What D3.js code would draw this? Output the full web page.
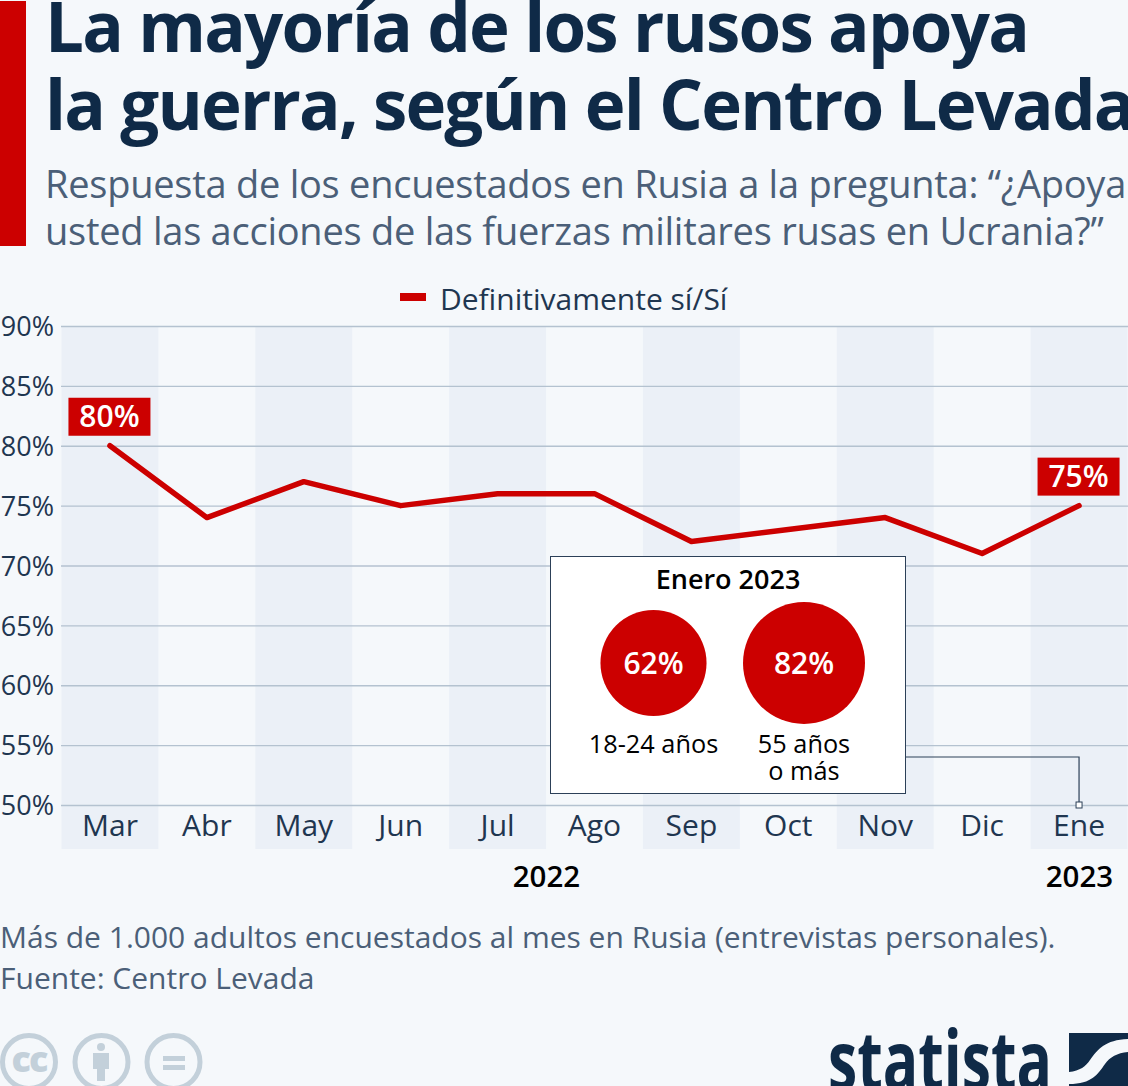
<!DOCTYPE html>
<html lang="es"><head><meta charset="utf-8">
<script src="https://cdn.jsdelivr.net/npm/d3@7"></script>
<style>html,body{margin:0;padding:0;background:#f5f8fb;overflow:hidden}svg{display:block}text{font-family:"Open Sans",sans-serif}</style>
</head><body><svg id="c" width="1128" height="1086"></svg>
<script>
const months=["Mar","Abr","May","Jun","Jul","Ago","Sep","Oct","Nov","Dic","Ene"];
const support=[80,74,77,75,76,76,72,73,74,71,75];
const yTicks=[50,55,60,65,70,75,80,85,90];
const labelled=["Mar","Ene"];
const insetLabels=[["18-24 años"],["55 años","o más"]];
const insetValues=[62,82];
const titleLines=["La mayoría de los rusos apoya","la guerra, según el Centro Levada"];
const subtitleLines=["Respuesta de los encuestados en Rusia a la pregunta: “¿Apoya","usted las acciones de las fuerzas militares rusas en Ucrania?”"];
const footLines=["Más de 1.000 adultos encuestados al mes en Rusia (entrevistas personales).","Fuente: Centro Levada"];
const navy="#0f2a47",slate="#4b5f78",red="#cc0000",deep="#1f3650";
const svg=d3.select("#c");
const x=d3.scaleBand().domain(months).range([61.5,1127.5]).padding(0);
const y=d3.scaleLinear().domain([50,90]).range([805,326]);
const cx=m=>x(m)+x.bandwidth()/2;

// header
svg.append("rect").attr("x",0).attr("y",1).attr("width",26).attr("height",245).attr("fill",red);
svg.selectAll(".t").data(titleLines).join("text").attr("x",45).attr("y",(d,i)=>52+i*78)
 .attr("font-size",69).attr("font-weight",700).attr("fill",navy).attr("letter-spacing",-1.8).text(d=>d);
svg.selectAll(".s").data(subtitleLines).join("text").attr("x",45).attr("y",(d,i)=>198+i*47)
 .attr("font-size",38).attr("fill",slate).attr("letter-spacing",-0.25).text(d=>d);

// legend
svg.append("rect").attr("x",400).attr("y",293).attr("width",26).attr("height",8).attr("fill",red);
svg.append("text").attr("x",440).attr("y",310).attr("font-size",30).attr("fill",deep).text("Definitivamente sí/Sí");

// bands
svg.selectAll(".b").data(months.filter((d,i)=>i%2===0)).join("rect")
 .attr("x",d=>x(d)).attr("y",y(90)).attr("width",x.bandwidth()).attr("height",849-y(90)).attr("fill","#ebf0f7");

// gridlines & y axis
const gy=svg.append("g").attr("transform","translate(61,0)").call(d3.axisLeft(y).tickValues(yTicks).tickSize(-1067).tickFormat(d=>d+"%"));
gy.select(".domain").remove();
gy.selectAll(".tick line").attr("stroke","#b4c2d0").attr("stroke-width",1.4);
gy.selectAll(".tick text").attr("x",-7).attr("font-size",27).attr("font-family","Open Sans").attr("fill",deep).attr("dy","0.36em");

// x axis
const gx=svg.append("g").attr("transform","translate(0,805)").call(d3.axisBottom(x).tickSize(0));
gx.select(".domain").remove();
gx.selectAll(".tick text").attr("y",20).attr("font-size",30).attr("font-family","Open Sans").attr("fill",deep).attr("dy","0.36em");
[["2022",546.5],["2023",1079.5]].forEach(([t,px])=>svg.append("text").attr("x",px).attr("y",887).attr("text-anchor","middle").attr("font-size",29.5).attr("font-weight",600).attr("fill","#000").text(t));

// line
const line=d3.line().x((d,i)=>cx(months[i])).y(d=>y(d));
svg.append("path").attr("d",line(support)).attr("fill","none").attr("stroke",red).attr("stroke-width",5.5).attr("stroke-linecap","round").attr("stroke-linejoin","round");

// value labels
labelled.forEach(m=>{
 const v=support[months.indexOf(m)];
 const g=svg.append("g").attr("transform",`translate(${cx(m)},${y(v)-29})`);
 g.append("rect").attr("x",-41.5).attr("y",-19).attr("width",82).attr("height",38).attr("fill",red);
 g.append("text").attr("text-anchor","middle").attr("x",-0.5).attr("y",10).attr("font-size",30).attr("font-weight",600).attr("fill","#fff").text(v+"%");
});

// connector
const ex=cx("Ene");
svg.append("path").attr("d",`M905,757H${ex}V${y(50)}`).attr("fill","none").attr("stroke","#2c4058").attr("stroke-width",1.2);
svg.append("rect").attr("x",ex-3).attr("y",y(50)-3).attr("width",6).attr("height",6).attr("fill","#fff").attr("stroke","#2c4058").attr("stroke-width",1);

// inset
svg.append("rect").attr("x",550.5).attr("y",556.5).attr("width",355).attr("height",237).attr("fill","#fff").attr("stroke","#2c4058").attr("stroke-width",1);
svg.append("text").attr("x",728).attr("y",589).attr("text-anchor","middle").attr("font-size",27).attr("font-weight",600).attr("fill","#000").text("Enero 2023");
const rScale=d3.scaleSqrt().domain([0,82]).range([0,61]);
const insetX=[653.5,804];
insetValues.forEach((v,i)=>{
 svg.append("circle").attr("cx",insetX[i]).attr("cy",663).attr("r",rScale(v)).attr("fill",red);
 svg.append("text").attr("x",insetX[i]).attr("y",674).attr("text-anchor","middle").attr("font-size",30).attr("font-weight",600).attr("fill","#fff").text(v+"%");
 insetLabels[i].forEach((l,j)=>svg.append("text").attr("x",insetX[i]).attr("y",753+j*27).attr("text-anchor","middle").attr("font-size",25.3).attr("fill","#000").text(l));
});

// footer
svg.selectAll(".f").data(footLines).join("text").attr("x",0).attr("y",(d,i)=>948+i*41)
 .attr("font-size",30).attr("fill",slate).text(d=>d);

// cc icons
const ic="#c3d0da";
[29,101.5,173.5].forEach(c=>svg.append("circle").attr("cx",c).attr("cy",1062).attr("r",26.5).attr("fill","none").attr("stroke",ic).attr("stroke-width",5));
svg.append("text").attr("x",29).attr("y",1072).attr("text-anchor","middle").attr("font-size",36).attr("font-weight",800).attr("letter-spacing",-2).attr("fill",ic).text("cc");
svg.append("circle").attr("cx",101).attr("cy",1047).attr("r",4).attr("fill",ic);
svg.append("path").attr("d","M93,1053H109V1069H105V1081H97V1069H93Z").attr("fill",ic);
svg.append("rect").attr("x",163).attr("y",1056).attr("width",22).attr("height",5).attr("fill",ic);
svg.append("rect").attr("x",163).attr("y",1065).attr("width",22).attr("height",5).attr("fill",ic);

// statista logo
svg.append("text").attr("x",828).attr("y",1090).attr("font-size",82).attr("font-weight",700).attr("fill",navy)
 .attr("style","font-family:'Liberation Sans Narrow','Open Sans'").attr("textLength",224).attr("lengthAdjust","spacingAndGlyphs").text("statista");
svg.append("path").attr("d","M1069,1033H1128V1039C1105,1040 1098,1049 1090,1060C1086,1066 1080,1071 1069,1072Z").attr("fill",navy);
svg.append("path").attr("d","M1128,1052V1086H1069V1084C1092,1084 1098,1074 1105,1064C1110,1057 1117,1053 1128,1052Z").attr("fill",navy);
</script></body></html>
